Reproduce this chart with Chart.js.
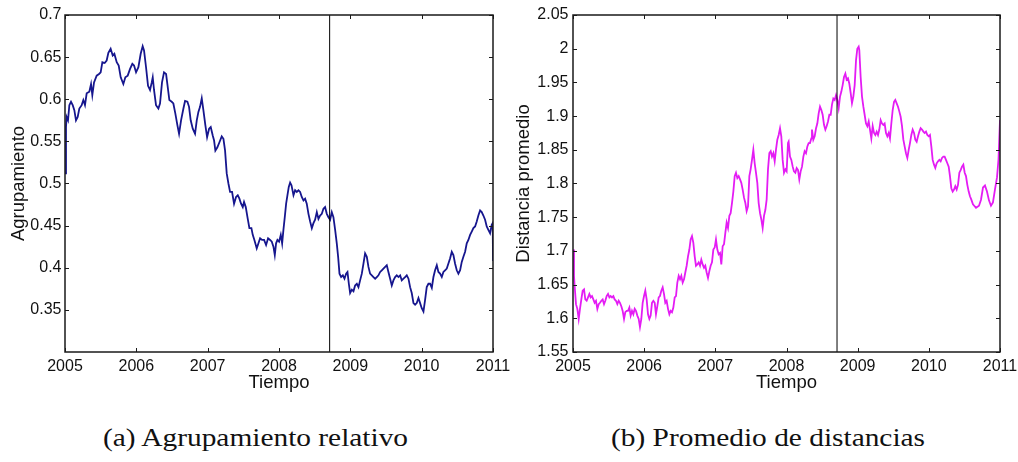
<!DOCTYPE html>
<html>
<head>
<meta charset="utf-8">
<script src="https://cdn.jsdelivr.net/npm/chart.js@4/dist/chart.umd.min.js"></script>
<style>
  html, body { margin: 0; padding: 0; background: #fff; width: 1018px; height: 462px; overflow: hidden; position: relative; }
  canvas { position: absolute; top: 0; }
  #ca { left: 0; }
  #cb { left: 500px; }
  .cap { position: absolute; top: 423px; font-family: 'Liberation Serif', 'DejaVu Serif', serif; font-size: 26px; line-height: 30px; color: #111; white-space: nowrap; transform-origin: 0 0; }
  #capA { left: 103px; }
  #capB { left: 611px; }
</style>
</head>
<body>
<canvas id="ca" width="520" height="400"></canvas>
<canvas id="cb" width="518" height="400"></canvas>
<div class="cap" id="capA">(a) Agrupamiento relativo</div>
<div class="cap" id="capB">(b) Promedio de distancias</div>
<script>
// Axis ticks
const yearTicks = [2005, 2006, 2007, 2008, 2009, 2010, 2011];
const agrupTicks = [0.35, 0.4, 0.45, 0.5, 0.55, 0.6, 0.65, 0.7];
const distTicks = [1.55, 1.6, 1.65, 1.7, 1.75, 1.8, 1.85, 1.9, 1.95, 2, 2.05];

// Mid-September 2008 marker
const eventYear = 2008.71;

// Relative clustering, [decimal year, value]
const agrupamiento = [
  [2005.000,0.512],[2005.014,0.567],[2005.023,0.579],[2005.042,0.575],[2005.061,0.593],[2005.084,0.597],[2005.108,0.593],[2005.131,0.587],
  [2005.154,0.575],[2005.178,0.579],[2005.201,0.589],[2005.234,0.593],[2005.257,0.599],[2005.280,0.593],[2005.304,0.607],[2005.341,0.609],
  [2005.365,0.618],[2005.383,0.605],[2005.407,0.620],[2005.444,0.628],[2005.477,0.630],[2005.500,0.632],[2005.524,0.644],[2005.556,0.643],
  [2005.584,0.646],[2005.608,0.655],[2005.640,0.660],[2005.669,0.652],[2005.692,0.654],[2005.725,0.644],[2005.753,0.640],[2005.781,0.626],
  [2005.818,0.618],[2005.846,0.626],[2005.879,0.628],[2005.912,0.636],[2005.944,0.642],[2005.968,0.640],[2005.996,0.632],
  [2006.029,0.638],[2006.061,0.654],[2006.089,0.663],[2006.108,0.658],[2006.136,0.638],[2006.164,0.616],[2006.192,0.611],[2006.216,0.620],
  [2006.230,0.626],[2006.248,0.611],[2006.276,0.593],[2006.309,0.589],[2006.332,0.595],[2006.360,0.620],[2006.388,0.632],[2006.417,0.630],
  [2006.435,0.618],[2006.463,0.599],[2006.496,0.597],[2006.519,0.595],[2006.547,0.583],[2006.576,0.569],[2006.599,0.559],[2006.627,0.575],
  [2006.660,0.589],[2006.683,0.598],[2006.716,0.597],[2006.739,0.591],[2006.762,0.575],[2006.791,0.565],[2006.823,0.559],[2006.847,0.575],
  [2006.870,0.585],[2006.893,0.591],[2006.917,0.601],[2006.940,0.587],[2006.968,0.569],[2006.992,0.555],
  [2007.020,0.565],[2007.043,0.567],[2007.071,0.557],[2007.090,0.551],[2007.108,0.539],[2007.136,0.543],[2007.165,0.549],[2007.197,0.556],
  [2007.221,0.553],[2007.244,0.539],[2007.267,0.512],[2007.291,0.500],[2007.314,0.490],[2007.342,0.490],[2007.370,0.476],[2007.398,0.484],
  [2007.422,0.486],[2007.445,0.482],[2007.468,0.476],[2007.492,0.472],[2007.510,0.478],[2007.534,0.472],[2007.562,0.458],[2007.585,0.447],
  [2007.613,0.447],[2007.632,0.439],[2007.655,0.433],[2007.688,0.423],[2007.712,0.429],[2007.735,0.435],[2007.763,0.433],[2007.791,0.433],
  [2007.819,0.427],[2007.847,0.435],[2007.875,0.433],[2007.899,0.431],[2007.922,0.425],[2007.941,0.415],[2007.959,0.429],[2007.978,0.433],
  [2008.001,0.431],[2008.025,0.439],[2008.044,0.429],[2008.062,0.445],[2008.081,0.460],[2008.100,0.476],[2008.118,0.486],[2008.137,0.496],
  [2008.156,0.501],[2008.175,0.498],[2008.203,0.486],[2008.226,0.492],[2008.249,0.490],[2008.273,0.492],[2008.296,0.490],[2008.319,0.484],
  [2008.343,0.480],[2008.366,0.482],[2008.389,0.476],[2008.413,0.464],[2008.436,0.455],[2008.460,0.447],[2008.483,0.453],[2008.506,0.457],
  [2008.530,0.466],[2008.553,0.458],[2008.576,0.462],[2008.600,0.464],[2008.623,0.470],[2008.646,0.472],[2008.670,0.464],[2008.693,0.460],
  [2008.717,0.457],[2008.740,0.466],[2008.763,0.460],[2008.787,0.445],[2008.810,0.429],[2008.829,0.413],[2008.848,0.393],[2008.871,0.389],
  [2008.895,0.391],[2008.918,0.387],[2008.941,0.393],[2008.960,0.395],[2008.979,0.381],[2008.997,0.370],
  [2009.021,0.374],[2009.044,0.372],[2009.067,0.379],[2009.091,0.381],[2009.114,0.377],[2009.137,0.385],[2009.161,0.393],[2009.184,0.405],
  [2009.207,0.417],[2009.231,0.413],[2009.254,0.401],[2009.277,0.393],[2009.301,0.391],[2009.324,0.389],[2009.348,0.387],[2009.371,0.389],
  [2009.394,0.391],[2009.418,0.395],[2009.441,0.397],[2009.464,0.399],[2009.488,0.401],[2009.511,0.403],[2009.534,0.395],[2009.558,0.387],
  [2009.581,0.379],[2009.604,0.385],[2009.628,0.389],[2009.651,0.391],[2009.675,0.389],[2009.698,0.391],[2009.721,0.385],[2009.745,0.387],
  [2009.768,0.389],[2009.791,0.391],[2009.815,0.387],[2009.838,0.377],[2009.861,0.370],[2009.885,0.358],[2009.908,0.356],[2009.931,0.358],
  [2009.955,0.364],[2009.978,0.358],
  [2010.001,0.352],[2010.025,0.348],[2010.048,0.362],[2010.071,0.377],[2010.095,0.381],[2010.118,0.381],[2010.142,0.376],[2010.165,0.389],
  [2010.188,0.397],[2010.212,0.403],[2010.235,0.395],[2010.258,0.393],[2010.282,0.389],[2010.305,0.395],[2010.328,0.397],[2010.352,0.399],
  [2010.375,0.405],[2010.398,0.411],[2010.422,0.419],[2010.445,0.415],[2010.468,0.405],[2010.492,0.397],[2010.515,0.393],[2010.539,0.397],
  [2010.562,0.407],[2010.585,0.413],[2010.609,0.419],[2010.632,0.429],[2010.655,0.433],[2010.679,0.439],[2010.702,0.443],[2010.725,0.447],
  [2010.749,0.449],[2010.772,0.455],[2010.795,0.462],[2010.819,0.468],[2010.842,0.466],[2010.865,0.462],[2010.889,0.457],[2010.912,0.449],
  [2010.935,0.445],[2010.959,0.441],[2010.982,0.451],[2010.996,0.453],[2011.000,0.408]
];

// Mean distance, [decimal year, value]
const distancia = [
  [2005.000,1.702],[2005.014,1.663],[2005.023,1.648],[2005.042,1.621],[2005.061,1.614],[2005.080,1.599],[2005.098,1.614],[2005.117,1.628],
  [2005.136,1.641],[2005.155,1.643],[2005.173,1.628],[2005.192,1.626],[2005.211,1.631],[2005.230,1.636],[2005.248,1.631],[2005.267,1.633],
  [2005.286,1.628],[2005.304,1.623],[2005.323,1.626],[2005.342,1.614],[2005.361,1.621],[2005.379,1.623],[2005.398,1.626],[2005.417,1.628],
  [2005.436,1.621],[2005.454,1.626],[2005.473,1.633],[2005.492,1.636],[2005.511,1.631],[2005.529,1.633],[2005.548,1.631],[2005.567,1.633],
  [2005.585,1.628],[2005.604,1.626],[2005.623,1.621],[2005.642,1.626],[2005.660,1.623],[2005.679,1.618],[2005.698,1.611],[2005.717,1.599],
  [2005.735,1.609],[2005.754,1.611],[2005.773,1.611],[2005.792,1.616],[2005.810,1.604],[2005.829,1.611],[2005.848,1.606],[2005.867,1.614],
  [2005.885,1.611],[2005.904,1.604],[2005.923,1.599],[2005.941,1.587],[2005.960,1.599],[2005.979,1.623],[2005.998,1.633],
  [2006.016,1.641],[2006.035,1.628],[2006.054,1.606],[2006.073,1.599],[2006.091,1.604],[2006.110,1.623],[2006.129,1.626],[2006.148,1.623],
  [2006.166,1.606],[2006.185,1.618],[2006.204,1.631],[2006.222,1.633],[2006.241,1.641],[2006.260,1.646],[2006.279,1.636],[2006.297,1.623],
  [2006.316,1.626],[2006.335,1.614],[2006.354,1.606],[2006.372,1.611],[2006.391,1.609],[2006.410,1.616],[2006.429,1.631],[2006.447,1.633],
  [2006.466,1.653],[2006.485,1.663],[2006.504,1.658],[2006.522,1.663],[2006.541,1.653],[2006.560,1.658],[2006.578,1.668],[2006.597,1.678],
  [2006.616,1.692],[2006.635,1.702],[2006.653,1.717],[2006.672,1.722],[2006.691,1.712],[2006.710,1.692],[2006.728,1.678],[2006.747,1.680],
  [2006.766,1.683],[2006.785,1.678],[2006.803,1.687],[2006.822,1.680],[2006.841,1.675],[2006.859,1.678],[2006.878,1.668],[2006.897,1.660],
  [2006.916,1.670],[2006.934,1.678],[2006.953,1.683],[2006.972,1.702],[2006.991,1.705],
  [2007.009,1.717],[2007.028,1.702],[2007.047,1.695],[2007.066,1.697],[2007.084,1.680],[2007.103,1.707],[2007.122,1.710],[2007.141,1.727],
  [2007.159,1.742],[2007.178,1.734],[2007.197,1.752],[2007.215,1.756],[2007.234,1.771],[2007.253,1.788],[2007.272,1.811],[2007.290,1.816],
  [2007.309,1.808],[2007.328,1.811],[2007.347,1.806],[2007.365,1.801],[2007.384,1.791],[2007.403,1.779],[2007.422,1.771],[2007.440,1.759],
  [2007.459,1.766],[2007.478,1.811],[2007.496,1.821],[2007.515,1.835],[2007.534,1.850],[2007.553,1.830],[2007.571,1.816],[2007.590,1.801],
  [2007.609,1.771],[2007.628,1.756],[2007.646,1.747],[2007.665,1.734],[2007.684,1.752],[2007.703,1.761],[2007.721,1.776],[2007.740,1.821],
  [2007.759,1.845],[2007.778,1.848],[2007.796,1.840],[2007.815,1.845],[2007.834,1.833],[2007.852,1.850],[2007.871,1.865],[2007.890,1.872],
  [2007.909,1.882],[2007.927,1.870],[2007.946,1.835],[2007.965,1.816],[2007.984,1.821],
  [2008.002,1.818],[2008.021,1.860],[2008.030,1.862],[2008.049,1.840],[2008.068,1.835],[2008.087,1.825],[2008.105,1.818],[2008.124,1.816],
  [2008.143,1.823],[2008.162,1.820],[2008.180,1.806],[2008.199,1.818],[2008.218,1.825],[2008.237,1.840],[2008.255,1.848],[2008.274,1.845],
  [2008.293,1.855],[2008.311,1.860],[2008.330,1.860],[2008.349,1.867],[2008.358,1.880],[2008.377,1.865],[2008.396,1.870],[2008.415,1.882],
  [2008.433,1.889],[2008.452,1.904],[2008.471,1.914],[2008.490,1.909],[2008.508,1.902],[2008.527,1.887],[2008.546,1.880],[2008.564,1.885],
  [2008.583,1.892],[2008.602,1.902],[2008.621,1.902],[2008.639,1.917],[2008.658,1.926],[2008.677,1.924],[2008.696,1.931],[2008.714,1.924],
  [2008.733,1.912],[2008.752,1.929],[2008.770,1.936],[2008.789,1.946],[2008.808,1.958],[2008.827,1.963],[2008.845,1.954],[2008.864,1.956],
  [2008.883,1.948],[2008.902,1.934],[2008.920,1.919],[2008.939,1.929],[2008.958,1.946],[2008.977,1.983],[2008.995,2.000],
  [2009.014,2.003],[2009.023,1.998],[2009.042,1.958],[2009.061,1.929],[2009.080,1.914],[2009.098,1.902],[2009.117,1.889],[2009.136,1.885],
  [2009.155,1.892],[2009.173,1.880],[2009.192,1.867],[2009.211,1.885],[2009.230,1.875],[2009.248,1.872],[2009.267,1.877],[2009.286,1.872],
  [2009.304,1.880],[2009.323,1.894],[2009.342,1.889],[2009.361,1.887],[2009.379,1.889],[2009.398,1.875],[2009.417,1.870],[2009.436,1.875],
  [2009.454,1.867],[2009.473,1.889],[2009.492,1.909],[2009.511,1.921],[2009.529,1.924],[2009.548,1.919],[2009.567,1.914],[2009.585,1.907],
  [2009.604,1.899],[2009.623,1.885],[2009.642,1.865],[2009.660,1.855],[2009.679,1.845],[2009.698,1.838],[2009.717,1.850],[2009.735,1.860],
  [2009.754,1.872],[2009.773,1.880],[2009.792,1.875],[2009.810,1.865],[2009.829,1.862],[2009.848,1.870],[2009.867,1.877],[2009.885,1.882],
  [2009.904,1.880],[2009.923,1.877],[2009.941,1.875],[2009.960,1.877],[2009.979,1.872],[2009.998,1.870],
  [2010.016,1.872],[2010.035,1.855],[2010.054,1.835],[2010.073,1.828],[2010.091,1.823],[2010.110,1.830],[2010.129,1.833],[2010.148,1.835],
  [2010.166,1.833],[2010.185,1.838],[2010.204,1.840],[2010.222,1.840],[2010.241,1.835],[2010.260,1.830],[2010.279,1.825],[2010.297,1.811],
  [2010.316,1.793],[2010.335,1.788],[2010.354,1.791],[2010.372,1.796],[2010.391,1.791],[2010.410,1.798],[2010.429,1.816],[2010.447,1.820],
  [2010.466,1.825],[2010.485,1.828],[2010.504,1.816],[2010.522,1.811],[2010.541,1.798],[2010.560,1.788],[2010.578,1.781],[2010.597,1.776],
  [2010.620,1.769],[2010.663,1.764],[2010.705,1.767],[2010.733,1.776],[2010.761,1.794],[2010.789,1.797],[2010.817,1.788],[2010.845,1.775],
  [2010.873,1.767],[2010.901,1.772],[2010.929,1.791],[2010.958,1.809],[2010.979,1.836],[2011.000,1.894]
];

Chart.defaults.font.family = "'Liberation Sans', Arial, Helvetica, sans-serif";
Chart.defaults.color = '#111';

// Closed axes box with inward tick marks on all four sides
const boxTicks = {
  id: 'boxTicks',
  afterDatasetsDraw(chart) {
    const { ctx, chartArea: a, scales: { x, y } } = chart;
    const len = 4;
    ctx.save();
    ctx.strokeStyle = '#1a1a1a';
    ctx.lineWidth = 1;
    ctx.beginPath();
    for (const t of x.ticks) {
      const px = Math.round(x.getPixelForValue(t.value)) + 0.5;
      ctx.moveTo(px, a.bottom); ctx.lineTo(px, a.bottom - len);
      ctx.moveTo(px, a.top); ctx.lineTo(px, a.top + len);
    }
    for (const t of y.ticks) {
      const py = Math.round(y.getPixelForValue(t.value)) + 0.5;
      ctx.moveTo(a.left, py); ctx.lineTo(a.left + len, py);
      ctx.moveTo(a.right, py); ctx.lineTo(a.right - len, py);
    }
    ctx.stroke();
    ctx.lineWidth = 1.5;
    ctx.strokeRect(a.left, a.top, a.right - a.left, a.bottom - a.top);
    ctx.restore();
  }
};

function makeChart(canvasId, series, color, yMin, yMax, yTicks, yTitle, box) {
  return new Chart(document.getElementById(canvasId), {
    type: 'line',
    data: {
      datasets: [
        {
          data: [{ x: eventYear, y: yMin }, { x: eventYear, y: yMax }],
          borderColor: '#000', borderWidth: 1, pointRadius: 0, fill: false
        },
        {
          data: series.map(([x, y]) => ({ x, y })),
          borderColor: color, borderWidth: 1.8, pointRadius: 0, tension: 0, fill: false
        }
      ]
    },
    options: {
      responsive: false,
      animation: false,
      events: [],
      layout: { padding: { left: 0, top: 15, right: box.right, bottom: 0 } },
      plugins: { legend: { display: false }, tooltip: { enabled: false } },
      scales: {
        x: {
          type: 'linear', min: 2005, max: 2011,
          afterBuildTicks: s => { s.ticks = yearTicks.map(value => ({ value })); },
          afterFit: s => { s.height = 48; s.paddingLeft = 0; s.paddingRight = 0; },
          grid: { display: false, drawTicks: false },
          border: { display: false },
          ticks: { padding: 4.5, font: { size: 16 }, maxRotation: 0, autoSkip: false, callback: v => String(v) },
          title: { display: true, text: 'Tiempo', font: { size: 18.5 }, padding: { top: 0, bottom: 6.3 } }
        },
        y: {
          type: 'linear', min: yMin, max: yMax,
          afterBuildTicks: s => { s.ticks = yTicks.map(value => ({ value })); },
          afterFit: s => { s.width = box.yWidth; s.paddingTop = 0; s.paddingBottom = 0; },
          grid: { display: false, drawTicks: false },
          border: { display: false },
          ticks: { padding: box.yTickPad, font: { size: 16 }, autoSkip: false, callback: v => String(+v.toFixed(2)) },
          title: { display: true, text: yTitle, font: { size: 18.5 }, padding: { top: box.yTitlePad, bottom: 0 } }
        }
      }
    },
    plugins: [boxTicks]
  });
}

makeChart('ca', agrupamiento, '#16168e', 0.3, 0.7, agrupTicks, 'Agrupamiento',
  { right: 27, yWidth: 65, yTickPad: 3.5, yTitlePad: 7.5 });
makeChart('cb', distancia, '#e41cf4', 1.55, 2.05, distTicks, 'Distancia promedio',
  { right: 18, yWidth: 73, yTickPad: 4.5, yTitlePad: 12.5 });

// Sub-figure captions, stretched to the wider serif face
const capA = document.getElementById('capA');
const capB = document.getElementById('capB');
const sx = 305 / capA.offsetWidth;
[capA, capB].forEach(el => { el.style.transform = 'scaleX(' + sx + ')'; });
</script>
</body>
</html>
